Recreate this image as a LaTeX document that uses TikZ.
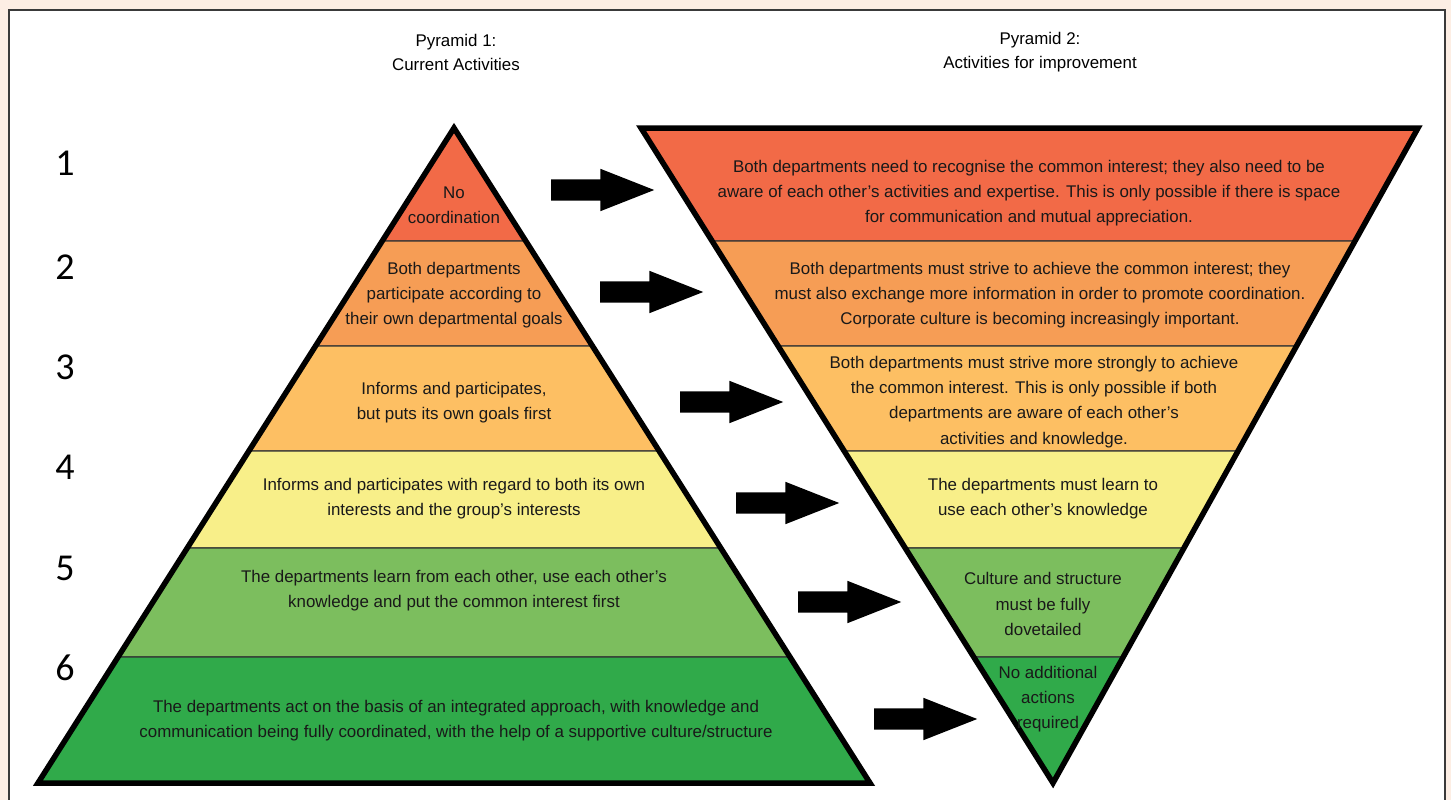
\documentclass[tikz,border=0pt]{standalone}
\usepackage{fontspec}
\setmainfont{Liberation Sans}
\newfontfamily\levelfont{Carlito}
\usetikzlibrary{calc,shapes.arrows}

\definecolor{paper}{HTML}{FDEEE4}
\definecolor{frame}{HTML}{3A3A3A}
\definecolor{bandA}{HTML}{F26A47}
\definecolor{bandB}{HTML}{F69D55}
\definecolor{bandC}{HTML}{FDBF63}
\definecolor{bandD}{HTML}{F8EF89}
\definecolor{bandE}{HTML}{7CBE5E}
\definecolor{bandF}{HTML}{30AA4A}

\begin{document}
\begin{tikzpicture}[x=1pt,y=1pt,yscale=-1,
    band/.style={draw=black!80,line width=1.3pt},
    outline/.style={draw=black,line width=5.5pt,line join=miter},
    bandtext/.style={inner sep=0pt,align=center,text=black!90,font=\fontsize{16.9}{25.2}\selectfont},
    title/.style={inner sep=0pt,align=center,font=\fontsize{16.9}{24}\selectfont},
    level/.style={inner sep=0pt,font=\levelfont\fontsize{38}{38}\selectfont},
    blockarrow/.style={single arrow,fill=black,inner sep=0pt,inner ysep=10.5pt,anchor=tail,
      minimum height=103pt,single arrow head extend=10.5pt,single arrow tip angle=43}]

  % background and frame
  \useasboundingbox (0,0) rectangle (1451,800);
  \fill[paper] (0,0) rectangle (1451,800);
  \draw[fill=white,draw=frame,line width=2pt] (9,10) rectangle (1445,820);

  % corners of the two pyramids
  \coordinate (A) at (454,128);
  \coordinate (BL) at (38,783);
  \coordinate (BR) at (870,783);
  \coordinate (TL) at (641,128);
  \coordinate (TR) at (1418,128);
  \coordinate (V) at (1053,783);

  % coloured bands
  \foreach \ta/\tb/\col in {0/0.1725/bandA,0.1725/0.3328/bandB,0.3328/0.4931/bandC,
      0.4931/0.6412/bandD,0.6412/0.8076/bandE,0.8076/1/bandF}{
    \filldraw[band,fill=\col] ($(A)!\ta!(BL)$) -- ($(A)!\tb!(BL)$) -- ($(A)!\tb!(BR)$) -- ($(A)!\ta!(BR)$) -- cycle;
    \filldraw[band,fill=\col] ($(TL)!\ta!(V)$) -- ($(TL)!\tb!(V)$) -- ($(TR)!\tb!(V)$) -- ($(TR)!\ta!(V)$) -- cycle;
  }

  % outlines
  \draw[outline] (A) -- (BL) -- (BR) -- cycle;
  \draw[outline] (TL) -- (TR) -- (V) -- cycle;

  % titles
  \node[title] (title1) at (456,52) {Pyramid 1:\\Current Activities};
  \node[title] (title2) at (1040,52) {Pyramid 2:\\Activities for improvement};

  % level numbers
  \foreach \n/\y in {1/163,2/267,3/367,4/467,5/568,6/668}
    \node[level] (lvl\n) at (65,\y) {\n};

  % Text Node: current activities
  \node[bandtext] (cur1) at (454,205) {No\\coordination};
  \node[bandtext] (cur2) at (454,295) {Both departments\\participate according to\\their own departmental goals};
  \node[bandtext] (cur3) at (454,403) {Informs and participates,\\but puts its own goals first};
  \node[bandtext] (cur4) at (454,499) {Informs and participates with regard to both its own\\interests and the group’s interests};
  \node[bandtext] (cur5) at (454,591) {The departments learn from each other, use each other’s\\knowledge and put the common interest first};
  \node[bandtext] (cur6) at (456,721) {The departments act on the basis of an integrated approach, with knowledge and\\communication being fully coordinated, with the help of a supportive culture/structure};

  % Text Node: activities for improvement
  \node[bandtext] (imp1) at (1029,193) {Both departments need to recognise the common interest; they also need to be\\aware of each other’s activities and expertise. This is only possible if there is space\\for communication and mutual appreciation.};
  \node[bandtext] (imp2) at (1040,295) {Both departments must strive to achieve the common interest; they\\must also exchange more information in order to promote coordination.\\Corporate culture is becoming increasingly important.};
  \node[bandtext] (imp3) at (1034,402) {Both departments must strive more strongly to achieve\\the common interest. This is only possible if both\\departments are aware of each other’s\\activities and knowledge.};
  \node[bandtext] (imp4) at (1043,499) {The departments must learn to\\use each other’s knowledge};
  \node[bandtext] (imp5) at (1043,604) {Culture and structure\\must be fully\\dovetailed};
  \node[bandtext] (imp6) at (1048,699) {No additional\\actions\\required};

  % Shape: Right Arrow
  \foreach \n/\x/\y in {1/551/190,2/600/292,3/680/402,4/736/503,5/798/602,6/874/719}
    \node[blockarrow] (arr\n) at (\x,\y) {};
\end{tikzpicture}
\end{document}
